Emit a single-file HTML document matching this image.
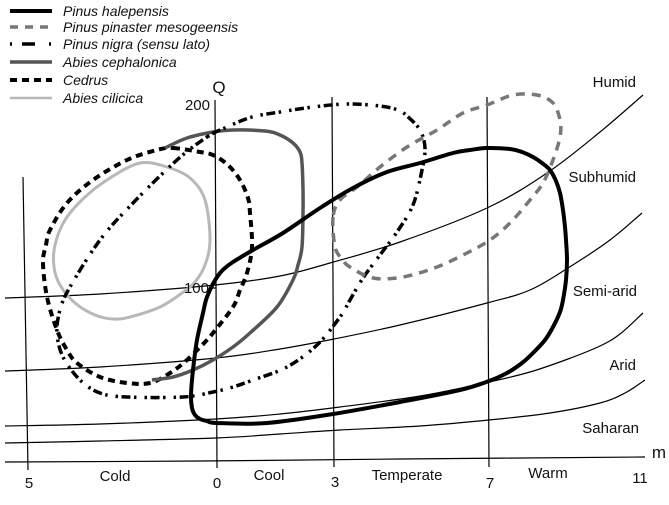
<!DOCTYPE html>
<html><head><meta charset="utf-8"><style>
html,body{margin:0;padding:0;background:#fff;}
svg{display:block;}
text{font-family:"Liberation Sans",Arial,sans-serif;fill:#111;}
</style></head><body>
<svg id="chart" width="669" height="505" viewBox="0 0 669 505" xmlns="http://www.w3.org/2000/svg">
<rect width="669" height="505" fill="#fff"/>
<!-- legend -->
<g stroke-linecap="butt" fill="none">
<line x1="10" y1="11" x2="52" y2="11" stroke="#000" stroke-width="4"/>
<line x1="10" y1="27" x2="52" y2="27" stroke="#777" stroke-width="3.5" stroke-dasharray="8 7"/>
<line x1="10" y1="44" x2="52" y2="44" stroke="#000" stroke-width="3.5" stroke-dasharray="2 10 13 14 2 20"/>
<line x1="10" y1="62" x2="52" y2="62" stroke="#555" stroke-width="3.5"/>
<line x1="10" y1="80" x2="52" y2="80" stroke="#000" stroke-width="4" stroke-dasharray="7 5"/>
<line x1="10" y1="98" x2="52" y2="98" stroke="#b8b8b8" stroke-width="2.5"/>
</g>
<g font-size="14" font-style="italic">
<text x="63" y="16">Pinus halepensis</text>
<text x="63" y="32">Pinus pinaster mesogeensis</text>
<text x="63" y="49">Pinus nigra (sensu lato)</text>
<text x="63" y="67">Abies cephalonica</text>
<text x="63" y="85">Cedrus</text>
<text x="63" y="103">Abies cilicica</text>
</g>
<!-- axes / grid -->
<g stroke="#000" stroke-width="1.2" fill="none">
<line x1="23" y1="177" x2="28" y2="470"/>
<line x1="215" y1="100" x2="217" y2="468"/>
<line x1="332" y1="97" x2="334" y2="467"/>
<line x1="487" y1="97" x2="489" y2="467"/>
<line x1="210" y1="288" x2="216" y2="288"/>
<polyline class="sm" points="5,462 200,461 400,459 645,457"/>
<polyline class="sm" points="5,298 100,294 215,285 280,276 330,263 400,242 487,208 547,173 600,132 643,95"/>
<polyline class="sm" points="5,371 100,367 216,358 280,349 334,339 400,325 487,303 530,290 568,268 610,240 642,213"/>
<polyline class="sm" points="5,426 100,424 216,419 280,414 340,407 420,396 489,382 530,372 568,359 600,346 620,334 643,313"/>
<polyline class="sm" points="5,443 100,441 216,438 280,434 340,430 420,426 489,420 550,413 600,403 625,393 645,380"/>
</g>
<!-- species -->
<g fill="none" stroke-linejoin="round">
<polygon class="sm" points="140,163 167,167 190,178 205,200 210,240 205,265 195,282 182,293 160,307 130,317 113,319 95,315 75,303 60,285 54,267 55,245 65,220 85,197 110,178" stroke="#b8b8b8" stroke-width="3"/>
<polygon class="sm" points="173,148 200,152 213,155 228,165 240,180 248,198 250,213 252,247 247,273 240,290 233,307 213,333 207,340 187,360 170,373 150,383 127,383 100,377 77,363 67,350 57,330 47,297 43,263 46,245 50,230 67,203 93,180 127,160 157,150" stroke="#000" stroke-width="4" stroke-dasharray="7 5"/>
<polyline class="sm" points="165,148 187,138 213,132 233,130 265,131 280,135 293,143 300,152 302,163 303,190 303,213 302,247 298,265 293,280 277,307 250,333 233,347 213,360 193,370 173,377 152,380" stroke="#555" stroke-width="3.5"/>
<polygon class="sm" points="207,137 227,127 252,117 280,112 313,107 347,104 380,106 398,110 407,116 420,130 425,148 422,170 413,205 397,232 380,255 363,278 350,300 340,317 317,345 287,367 253,380 233,387 213,392 183,397 127,397 100,393 80,380 63,357 57,333 60,310 70,287 100,240 133,203 177,160" stroke="#000" stroke-width="3.5" stroke-dasharray="2.5 3.5 9 3.5 2.5 8"/>
<polygon class="sm" points="333,217 335,247 342,259 350,267 373,278 403,277 437,267 467,253 490,240 510,223 530,200 543,183 553,160 560,137 560,120 553,103 537,95 513,95 487,105 463,113 437,130 407,147 380,167 357,187 340,200" stroke="#777" stroke-width="3.5" stroke-dasharray="9 7"/>
<polygon class="sm" points="207,421 217,423 267,423 333,414 400,402 460,390 489,381 507,373 522,363 533,353 545,340 553,327 560,312 563,300 566,280 567,260 566,240 565,227 563,210 560,193 556,181 550,170 542,163 533,157 522,152 510,149 487,148 470,150 453,153 420,163 387,172 353,188 320,208 283,233 253,250 233,262 225,268 220,273 214,282 210,290 206,300 203,313 197,340 193,370 191,395 192,408 195,415 200,419" stroke="#000" stroke-width="4"/>
</g>
<!-- labels -->
<g font-size="15">
<text x="636" y="87" text-anchor="end">Humid</text>
<text x="636" y="182" text-anchor="end">Subhumid</text>
<text x="637" y="296" text-anchor="end">Semi-arid</text>
<text x="636" y="370" text-anchor="end">Arid</text>
<text x="639" y="433" text-anchor="end">Saharan</text>
<text x="29" y="488" text-anchor="middle">5</text>
<text x="217" y="488" text-anchor="middle">0</text>
<text x="335" y="487" text-anchor="middle">3</text>
<text x="490" y="488" text-anchor="middle">7</text>
<text x="640" y="483" text-anchor="middle">11</text>
<text x="115" y="481" text-anchor="middle">Cold</text>
<text x="269" y="480" text-anchor="middle">Cool</text>
<text x="407" y="480" text-anchor="middle">Temperate</text>
<text x="548" y="478" text-anchor="middle">Warm</text>
<text x="210" y="110" text-anchor="end">200</text>
<text x="209" y="293" text-anchor="end">100</text>
</g>
<text x="659" y="458" text-anchor="middle" font-size="17">m</text>
<text x="219" y="93" text-anchor="middle" font-size="17">Q</text>
</svg>
<script>
(function(){
var NS="http://www.w3.org/2000/svg";
var els=document.querySelectorAll("#chart .sm");
for(var k=0;k<els.length;k++){
 var el=els[k];
 var closed=el.tagName.toLowerCase()==="polygon";
 var raw=el.getAttribute("points").trim().split(/\s+/);
 var p=raw.map(function(s){var a=s.split(",");return [parseFloat(a[0]),parseFloat(a[1])];});
 var n=p.length;
 function g(i){
  if(closed){return p[(i%n+n)%n];}
  return p[Math.max(0,Math.min(n-1,i))];
 }
 var d="M"+p[0][0]+","+p[0][1];
 var segs=closed?n:n-1;
 for(var i=0;i<segs;i++){
  var p0=g(i-1),p1=g(i),p2=g(i+1),p3=g(i+2);
  var c1x=p1[0]+(p2[0]-p0[0])/6,c1y=p1[1]+(p2[1]-p0[1])/6;
  var c2x=p2[0]-(p3[0]-p1[0])/6,c2y=p2[1]-(p3[1]-p1[1])/6;
  d+=" C"+c1x.toFixed(2)+","+c1y.toFixed(2)+" "+c2x.toFixed(2)+","+c2y.toFixed(2)+" "+p2[0]+","+p2[1];
 }
 if(closed)d+=" Z";
 var path=document.createElementNS(NS,"path");
 path.setAttribute("d",d);
 for(var j=0;j<el.attributes.length;j++){
  var at=el.attributes[j];
  if(at.name!=="points"&&at.name!=="class")path.setAttribute(at.name,at.value);
 }
 el.parentNode.replaceChild(path,el);
}
})();
</script>
</body></html>
